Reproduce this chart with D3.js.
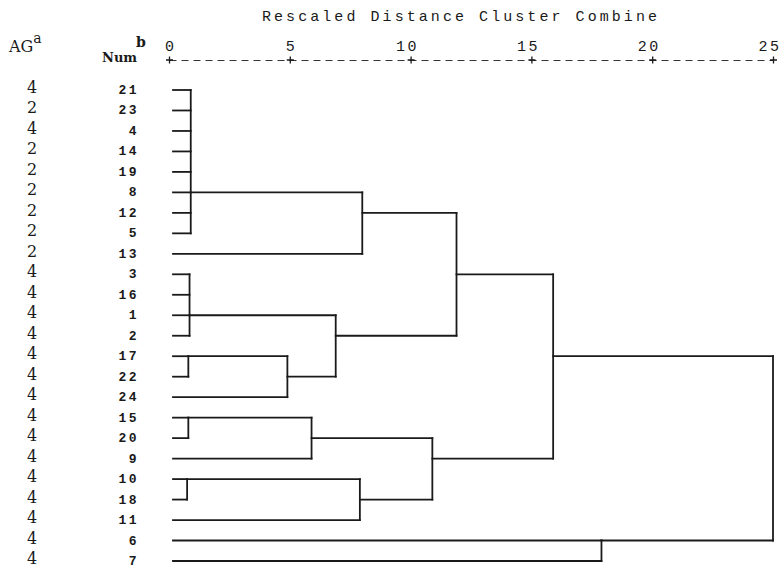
<!DOCTYPE html>
<html>
<head>
<meta charset="utf-8">
<script src="https://cdn.jsdelivr.net/npm/d3@7"></script>
<style>
  body { margin: 0; background: #fff; }
  .mono { font-family: "Liberation Mono", "DejaVu Sans Mono", monospace; fill: #1a1a1a; }
  .serif { font-family: "DejaVu Serif", "Liberation Serif", serif; fill: #1a1a1a; }
  .link { stroke: #1a1a1a; stroke-width: 1.8; stroke-linecap: square; fill: none; }
</style>
</head>
<body>
<div id="chart"></div>
<script>
const width = 782, height = 572;

// case numbers in dendrogram order, and their AG group
const caseNum = [21, 23, 4, 14, 19, 8, 12, 5, 13, 3, 16, 1, 2, 17, 22, 24, 15, 20, 9, 10, 18, 11, 6, 7];
const agGroup = [4, 2, 4, 2, 2, 2, 2, 2, 2, 4, 4, 4, 4, 4, 4, 4, 4, 4, 4, 4, 4, 4, 4, 4];

// merges: members (cases or earlier merges), rescaled distance, case row that carries the joined line
const mergeIds   = ["A", "B", "C", "D", "E", "F", "G", "H", "I", "J", "K", "L", "M", "N", "O"];
const mergeKids  = [
  [21, 23, 4, 14, 19, 8, 12, 5], ["A", 13],
  [3, 16, 1, 2], [17, 22], ["D", 24], ["C", "E"], ["B", "F"],
  [15, 20], ["H", 9], [10, 18], ["J", 11], ["I", "K"],
  ["G", "L"], [6, 7], ["M", "N"]
];
const mergeDist  = [0.9, 8.0, 0.85, 0.8, 4.9, 6.9, 11.9, 0.8, 5.9, 0.75, 7.9, 10.9, 15.9, 17.9, 25];
const mergeRowAt = [8, 12, 1, 17, 22, 2, 3, 15, 20, 10, 18, 9, 17, 6, null];

const tickValues = [0, 5, 10, 15, 20, 25];
const title = "Rescaled Distance Cluster Combine";

const svg = d3.select("#chart").append("svg")
  .attr("width", width).attr("height", height);

const x = d3.scaleLinear().domain([0, 25]).range([169, 773]);
const y = d3.scalePoint().domain(caseNum).range([90, 561]);
const leafStart = x(0) + 4;

// title
svg.append("text")
  .attr("class", "mono")
  .attr("x", 262).attr("y", 21)
  .attr("textLength", 395).attr("lengthAdjust", "spacing")
  .style("font-size", "15px")
  .text(title);

// axis: dashed line with "+" at the ticks
const axis = svg.append("g")
  .attr("transform", "translate(0,60)")
  .call(d3.axisTop(x).tickValues(tickValues).tickSize(0).tickPadding(9));
axis.select(".domain")
  .attr("stroke", "#333").attr("stroke-width", 1.2)
  .attr("stroke-dasharray", "7,5");
axis.selectAll(".tick text")
  .attr("class", "mono")
  .attr("text-anchor", "end")
  .attr("dx", d => d < 10 ? 7 : 8)
  .style("font-size", "15px")
  .style("letter-spacing", "2.5px")
  .attr("fill", "#1a1a1a");
axis.selectAll(".tick")
  .append("path")
  .attr("d", "M-3.5,0H3.5M0,-3.5V3.5")
  .attr("stroke", "#1a1a1a")
  .attr("stroke-width", 1.3);

// column headers
const agHead = svg.append("text").attr("class", "serif")
  .attr("x", 9).attr("y", 52).style("font-size", "16px");
agHead.append("tspan").text("AG");
agHead.append("tspan").attr("dy", -9).style("font-size", "14px").text("a");

svg.append("text").attr("class", "serif")
  .attr("x", 102).attr("y", 62).style("font-size", "13px").style("font-weight", "bold")
  .text("Num");
svg.append("text").attr("class", "serif")
  .attr("x", 136).attr("y", 47).style("font-size", "14px").style("font-weight", "bold")
  .text("b");

// row labels
svg.selectAll("text.ag")
  .data(caseNum)
  .join("text")
  .attr("class", "ag serif")
  .attr("x", 32)
  .attr("y", d => y(d) + 3)
  .attr("text-anchor", "middle")
  .style("font-size", "16px")
  .text((d, i) => agGroup[i]);

svg.selectAll("text.num")
  .data(caseNum)
  .join("text")
  .attr("class", "num mono")
  .attr("x", 139)
  .attr("y", d => y(d) + 4)
  .attr("text-anchor", "end")
  .style("font-size", "13px")
  .style("font-weight", "bold")
  .style("letter-spacing", "2.5px")
  .text(d => d);

// node positions
const nodes = new Map();
caseNum.forEach(c => nodes.set(c, { x: leafStart, y: y(c) }));

const segments = [];
mergeIds.forEach((id, i) => {
  const xm = x(mergeDist[i]);
  const kids = mergeKids[i].map(k => nodes.get(k));
  const ys = kids.map(k => k.y);
  kids.forEach(k => segments.push({ x1: k.x, x2: xm, y1: k.y, y2: k.y }));
  segments.push({ x1: xm, x2: xm, y1: d3.min(ys), y2: d3.max(ys) });
  const yOut = mergeRowAt[i] === null ? (d3.min(ys) + d3.max(ys)) / 2 : y(mergeRowAt[i]);
  nodes.set(id, { x: xm, y: yOut });
});

svg.selectAll("line.link")
  .data(segments)
  .join("line")
  .attr("class", "link")
  .attr("x1", d => d.x1).attr("x2", d => d.x2)
  .attr("y1", d => d.y1).attr("y2", d => d.y2);
</script>
</body>
</html>
